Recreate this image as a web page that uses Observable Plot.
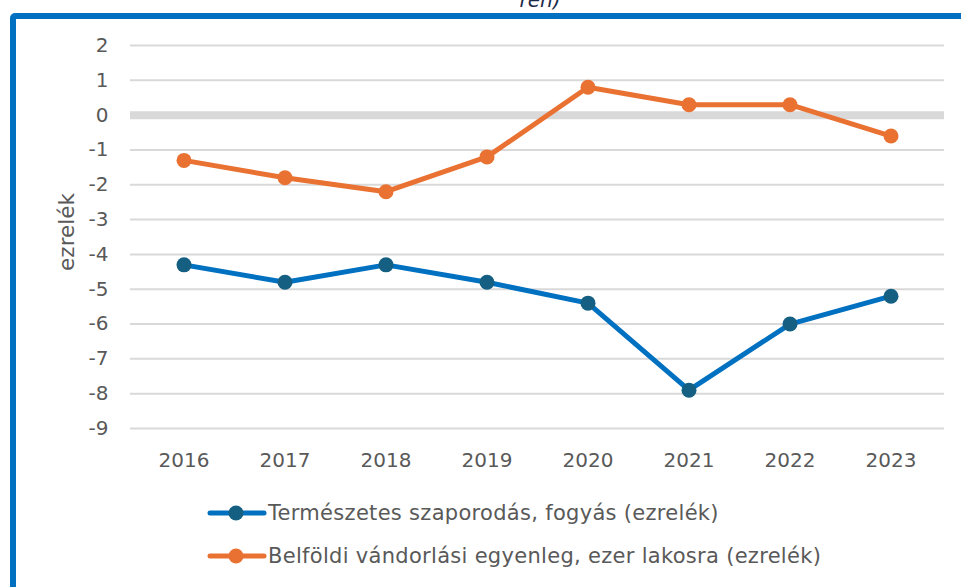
<!DOCTYPE html>
<html>
<head>
<meta charset="utf-8">
<script src="https://cdn.jsdelivr.net/npm/d3@7"></script>
<script src="https://cdn.jsdelivr.net/npm/@observablehq/plot@0.6"></script>
<style>
  html, body { margin: 0; padding: 0; background: #fff; overflow: hidden; }
  #wrap { position: relative; width: 961px; height: 587px; overflow: hidden; font-family: "DejaVu Sans", sans-serif; color: #595959; }
  #frame { position: absolute; left: 10px; top: 13px; width: 1000px; height: 650px; border: 6px solid #0070C0; border-radius: 5px; box-sizing: border-box; }
  #toptitle { position: absolute; left: 400px; width: 280px; text-align: center; top: -10px; font-style: italic; font-size: 20px; line-height: 20px; color: #1b2a48; }
  #ylabel { position: absolute; left: 66px; top: 232px; transform: translate(-50%, -50%) rotate(-90deg); font-size: 21.5px; white-space: nowrap; }
  .leg { position: absolute; left: 206px; height: 24px; display: flex; align-items: center; font-size: 21px; letter-spacing: 0.3px; white-space: nowrap; }
  #chart { position: absolute; left: 0; top: 0; }
</style>
</head>
<body>
<div id="wrap">
  <div id="frame"></div>
  <div id="toptitle">ren)</div>
  <div id="chart"></div>
  <div id="ylabel">ezrelék</div>
  <div class="leg" id="leg1" style="top:501px;"></div>
  <div class="leg" id="leg2" style="top:544px;"></div>
</div>
<script>
const years = ["2016", "2017", "2018", "2019", "2020", "2021", "2022", "2023"];
const natural = [-4.3, -4.8, -4.3, -4.8, -5.4, -7.9, -6.0, -5.2];
const migration = [-1.3, -1.8, -2.2, -1.2, 0.8, 0.3, 0.3, -0.6];
const yTicks = [2, 1, 0, -1, -2, -3, -4, -5, -6, -7, -8, -9];
const seriesNames = ["Természetes szaporodás, fogyás (ezrelék)", "Belföldi vándorlási egyenleg, ezer lakosra (ezrelék)"];
const lineColors = ["#0070C0", "#E97132"];
const dotColors = ["#156082", "#E97132"];

const rows = [];
years.forEach((y, i) => {
  rows.push({year: y, value: natural[i], series: seriesNames[0]});
  rows.push({year: y, value: migration[i], series: seriesNames[1]});
});

const chart = Plot.plot({
  width: 961,
  height: 587,
  marginLeft: 130,
  marginRight: 17,
  marginTop: 45,
  marginBottom: 159,
  style: {fontFamily: "'DejaVu Sans', sans-serif", fontSize: "20px", color: "#595959", background: "transparent"},
  x: {type: "band", domain: years, padding: 0},
  y: {domain: [-9, 2]},
  marks: [
    Plot.ruleY(yTicks.filter(d => d !== 0), {stroke: "#d9d9d9", strokeWidth: 2}),
    Plot.ruleY([0], {stroke: "#d9d9d9", strokeWidth: 8}),
    Plot.axisY({ticks: yTicks, tickSize: 0, tickPadding: 22, label: null, fontSize: 20, tickFormat: d => d < 0 ? "-" + Math.abs(d) : String(d), fill: "#595959"}),
    Plot.axisX({tickSize: 0, tickPadding: 24, label: null, fontSize: 20, fill: "#595959"}),
    Plot.line(rows, {x: "year", y: "value", z: "series", stroke: "series", strokeWidth: 5, strokeLinejoin: "round", strokeLinecap: "round"}),
    Plot.dot(rows, {x: "year", y: "value", fill: d => d.series === seriesNames[0] ? dotColors[0] : dotColors[1], r: 7.5})
  ],
  color: {domain: seriesNames, range: lineColors}
});
document.getElementById("chart").appendChild(chart);

function legendItem(el, i) {
  el.innerHTML = `<svg width="62" height="24"><line x1="4" y1="12" x2="58" y2="12" stroke="${lineColors[i]}" stroke-width="5" stroke-linecap="round"/><circle cx="30" cy="12" r="7.5" fill="${dotColors[i]}"/></svg><span>${seriesNames[i]}</span>`;
}
legendItem(document.getElementById("leg1"), 0);
legendItem(document.getElementById("leg2"), 1);
</script>
</body>
</html>
